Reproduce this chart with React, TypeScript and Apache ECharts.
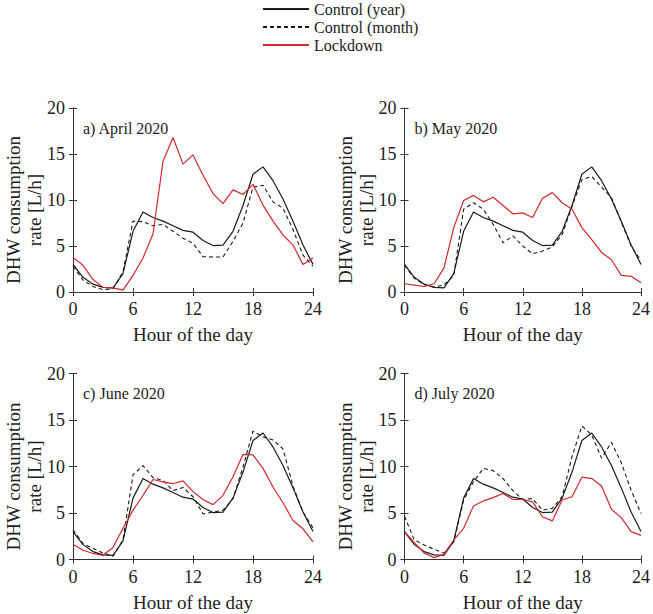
import React, { useEffect, useRef } from "react";
import * as echarts from "echarts";

const hours = [0,1,2,3,4,5,6,7,8,9,10,11,12,13,14,15,16,17,18,19,20,21,22,23,24];
const xTicks = [0, 6, 12, 18, 24];
const yTicks = [0, 5, 10, 15, 20];

const controlYear = [3.0,1.6,0.85,0.5,0.45,2.0,6.6,8.7,8.1,7.7,7.2,6.7,6.5,5.6,5.05,5.1,6.6,9.4,12.8,13.6,12.1,10.1,7.7,5.1,3.0];

const aprMonth = [2.8,1.3,0.6,0.25,0.35,2.2,7.7,7.65,7.2,7.35,6.6,5.85,5.3,3.85,3.8,3.8,5.5,7.5,11.4,11.6,9.8,9.1,6.8,4.0,2.8];
const aprLock = [3.75,2.9,1.35,0.5,0.45,0.2,1.8,3.7,6.3,14.2,16.8,13.9,14.9,12.7,10.7,9.6,11.1,10.6,11.7,9.45,7.7,6.2,5.1,3.0,3.7];

const mayMonth = [2.9,1.5,0.8,0.55,0.75,1.8,9.0,9.7,9.0,7.35,5.35,6.1,5.0,4.15,4.45,4.9,6.25,9.3,12.2,12.55,11.4,10.25,7.6,5.0,3.4];
const mayLock = [0.9,0.75,0.6,0.9,2.6,7.0,9.95,10.5,9.8,10.3,9.4,8.5,8.6,8.1,10.2,10.8,9.7,9.0,7.0,5.7,4.3,3.5,1.8,1.7,1.0];

const junMonth = [3.2,1.7,1.2,0.7,0.35,2.1,9.1,10.1,8.8,8.5,7.4,7.75,6.75,4.9,5.1,5.3,6.55,9.95,13.8,13.2,12.85,11.9,7.9,5.1,3.4];
const junLock = [1.65,1.0,0.65,0.45,1.3,3.35,5.3,6.9,8.6,8.35,8.15,8.45,7.3,6.45,5.9,6.9,8.9,11.3,11.25,9.8,7.8,6.1,4.2,3.3,1.9];

const julMonth = [4.65,2.1,1.55,1.1,0.7,1.9,6.4,8.35,9.8,9.55,8.7,7.4,6.45,6.55,5.3,5.5,6.75,11.05,14.35,13.4,10.9,12.6,10.4,7.45,4.95];
const julLock = [3.0,1.8,0.7,0.2,0.55,2.1,3.35,5.75,6.3,6.65,7.1,6.45,6.45,6.2,4.6,4.15,6.4,6.75,8.85,8.7,7.9,5.4,4.5,3.0,2.6];

const panelTitles = ["a) April 2020", "b) May 2020", "c) June 2020", "d) July 2020"];
const monthSeries = [aprMonth, mayMonth, junMonth, julMonth];
const lockSeries = [aprLock, mayLock, junLock, julLock];
const legendNames = ["Control (year)", "Control (month)", "Lockdown"];

const FONT = "'Liberation Serif', 'Times New Roman', serif";
const INK = "#222222";
const RED = "#d4282c";

const grids = [
  { left: 73, top: 108, width: 240, height: 184 },
  { left: 404.5, top: 108, width: 236.5, height: 184 },
  { left: 73, top: 373.5, width: 240, height: 186 },
  { left: 404.5, top: 373.5, width: 236.5, height: 186 },
];

export default function App() {
  const ref = useRef<HTMLDivElement>(null);
  useEffect(() => {
    if (!ref.current) return;
    const chart = echarts.init(ref.current, undefined, { renderer: "svg" });
    const toPairs = (arr: number[]) => hours.map((h, i) => [h, arr[i]]);
    const axisLine = { show: true, lineStyle: { color: "#333", width: 1 } };
    const xAxes: any[] = [];
    const yAxes: any[] = [];
    grids.forEach((_, i) => {
      xAxes.push({
        type: "value", gridIndex: i, min: xTicks[0], max: xTicks[xTicks.length - 1], interval: 6, position: "bottom",
        axisLine, axisTick: { inside: true, length: 4, lineStyle: { color: "#333" } },
        splitLine: { show: false },
        axisLabel: { fontFamily: FONT, fontSize: 18, color: INK, margin: 8 },
        name: "Hour of the day", nameLocation: "middle", nameGap: 33,
        nameTextStyle: { fontFamily: FONT, fontSize: 19, color: INK },
      });
      yAxes.push({
        type: "value", gridIndex: i, min: yTicks[0], max: yTicks[yTicks.length - 1], interval: 5, position: "left",
        axisLine, axisTick: { show: true, inside: true, length: 4, lineStyle: { color: "#333" } },
        splitLine: { show: false },
        axisLabel: { fontFamily: FONT, fontSize: 18, color: INK, margin: 8 },
      });
    });
    grids.forEach((_, i) => {
      xAxes.push({
        type: "value", gridIndex: i, min: 0, max: 24, interval: 6, position: "top",
        axisLine, axisTick: { inside: true, length: 4, lineStyle: { color: "#333" } },
        splitLine: { show: false }, axisLabel: { show: false },
      });
      yAxes.push({
        type: "value", gridIndex: i, min: 0, max: 20, interval: 5, position: "right",
        axisLine, axisTick: { show: true, inside: true, length: 4, lineStyle: { color: "#333" } },
        splitLine: { show: false }, axisLabel: { show: false },
      });
    });
    const series: any[] = [];
    grids.forEach((_, i) => {
      series.push({
        name: legendNames[0], type: "line", xAxisIndex: i, yAxisIndex: i,
        data: toPairs(controlYear), symbol: "none", z: 3,
        lineStyle: { color: "#1a1a1a", width: 1.2, type: "solid" }, itemStyle: { color: "#1a1a1a" },
      });
      series.push({
        name: legendNames[1], type: "line", xAxisIndex: i, yAxisIndex: i,
        data: toPairs(monthSeries[i]), symbol: "none", z: 2,
        lineStyle: { color: "#1a1a1a", width: 1.1, type: [4, 3] }, itemStyle: { color: "#1a1a1a" },
      });
      series.push({
        name: legendNames[2], type: "line", xAxisIndex: i, yAxisIndex: i,
        data: toPairs(lockSeries[i]), symbol: "none", z: 4,
        lineStyle: { color: RED, width: 1.2, type: "solid" }, itemStyle: { color: RED },
      });
    });
    const graphics: any[] = [];
    grids.forEach((g, i) => {
      graphics.push({
        type: "text", x: g.left + 10, y: g.top + 20,
        style: { text: panelTitles[i], font: `16px ${FONT}`, fill: INK, textAlign: "left", textVerticalAlign: "middle" },
      });
      graphics.push({
        type: "text", x: g.left - 49, y: g.top + g.height / 2 + 10, rotation: Math.PI / 2,
        style: { text: "DHW consumption\nrate [L/h]", font: `19px ${FONT}`, lineHeight: 21, fill: INK, textAlign: "center", textVerticalAlign: "middle" },
      });
    });
    chart.setOption({
      animation: false,
      backgroundColor: "#ffffff",
      grid: grids.map((g) => ({ ...g, containLabel: false })),
      xAxis: xAxes,
      yAxis: yAxes,
      legend: {
        data: legendNames, orient: "vertical", left: 257, top: -4,
        itemWidth: 46, itemHeight: 2, itemGap: 2,
        itemStyle: { opacity: 0 },
        textStyle: { fontFamily: FONT, fontSize: 16, color: INK, lineHeight: 16 },
      },
      graphic: graphics,
      series,
    });
    return () => chart.dispose();
  }, []);
  return <div ref={ref} style={{ position: "fixed", left: 0, top: 0, width: 653, height: 614, background: "#fff" }} />;
}
